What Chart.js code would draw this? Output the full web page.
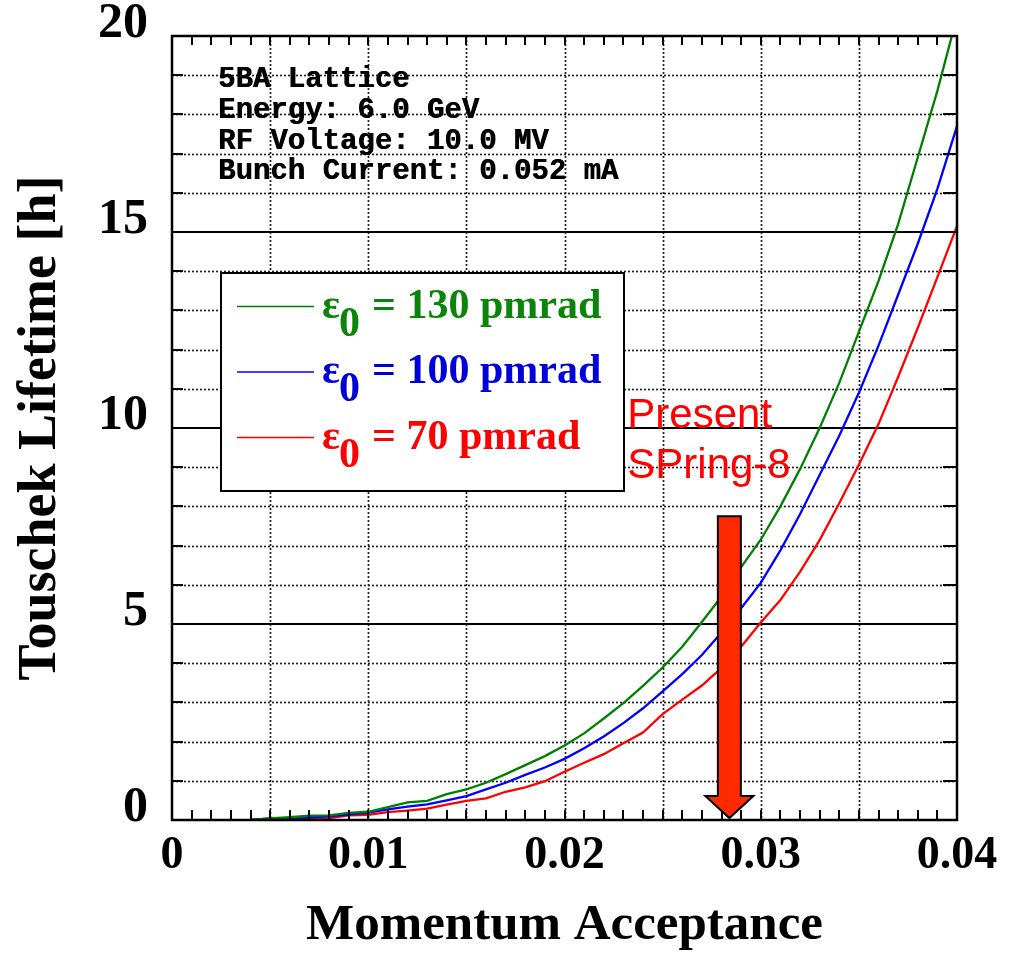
<!DOCTYPE html>
<html>
<head>
<meta charset="utf-8">
<script src="https://cdn.jsdelivr.net/npm/chart.js@4/dist/chart.umd.min.js"></script>
<style>
  html, body { margin: 0; padding: 0; background: #fff; }
  canvas { display: block; }
</style>
</head>
<body>
<canvas id="chart" width="1010" height="957"></canvas>
<script>
// Momentum acceptance sampled every 0.001
const acceptance = [
  0.004, 0.005, 0.006, 0.007, 0.008, 0.009, 0.010, 0.011, 0.012, 0.013,
  0.014, 0.015, 0.016, 0.017, 0.018, 0.019, 0.020, 0.021, 0.022, 0.023,
  0.024, 0.025, 0.026, 0.027, 0.028, 0.029, 0.030, 0.031, 0.032, 0.033,
  0.034, 0.035, 0.036, 0.037, 0.038, 0.039, 0.040
];

// Touschek lifetime [h] for each emittance
const lifetime130 = [
  0, 0.04, 0.07, 0.11, 0.12, 0.18, 0.21, 0.33, 0.45, 0.49,
  0.66, 0.78, 0.95, 1.17, 1.40, 1.63, 1.90, 2.21, 2.59, 2.98,
  3.42, 3.89, 4.42, 5.05, 5.70, 6.45, 7.15, 8.00, 8.95, 10.0,
  11.15, 12.45, 13.75, 15.2, 16.9, 18.6, 20.5
];
const lifetime100 = [
  0, 0.04, 0.05, 0.07, 0.09, 0.14, 0.19, 0.27, 0.34, 0.40,
  0.50, 0.61, 0.78, 0.95, 1.15, 1.34, 1.56, 1.83, 2.13, 2.47,
  2.85, 3.28, 3.72, 4.21, 4.78, 5.40, 6.05, 6.88, 7.80, 8.80,
  9.80, 10.9, 12.1, 13.4, 14.7, 16.1, 17.7
];
const lifetime70 = [
  0, 0.02, 0.03, 0.03, 0.05, 0.12, 0.13, 0.20, 0.24, 0.29,
  0.39, 0.49, 0.55, 0.72, 0.83, 0.99, 1.23, 1.46, 1.68, 1.96,
  2.23, 2.70, 3.07, 3.43, 3.88, 4.42, 5.04, 5.61, 6.33, 7.14,
  8.08, 9.06, 10.1, 11.3, 12.55, 13.85, 15.15
];

const seriesLabels = ['130', '100', '70'];
const seriesColors = ['#008000', '#0000ff', '#ff0000'];
const legendTextColors = ['#0a850a', '#0000dd', '#ff0000'];

const xTickLabels = ['0', '0.01', '0.02', '0.03', '0.04'];
const yTickLabels = ['0', '5', '10', '15', '20'];

const infoLines = ['5BA Lattice', 'Energy: 6.0 GeV', 'RF Voltage: 10.0 MV', 'Bunch Current: 0.052 mA'];
const noteLines = ['Present', 'SPring-8'];

// Present SPring-8 acceptance marker (arrow) and its note anchor
const markerAcceptance = 0.0284;
const markerTop = 7.75;
const markerTip = 0.05;
const noteAnchor = { x: 0.0232, y: 10.0 };

const SERIF = "'Liberation Serif', 'Times New Roman', serif";

function toPoints(ys) {
  return acceptance.map((x, i) => ({ x: x, y: ys[i] }));
}

// Grid, ticks, frame and the annotations drawn on top of the plot
const plotDecor = {
  id: 'plotDecor',
  beforeDatasetsDraw(chart) {
    const { ctx, chartArea: a, scales: { x, y } } = chart;
    ctx.save();
    ctx.strokeStyle = '#222';
    ctx.lineWidth = 1.7;
    ctx.setLineDash([2, 2]);
    // dotted verticals every 0.005
    for (let i = 1; i < 8; i++) {
      const px = Math.round(x.getPixelForValue(i * 0.005)) + 0.5;
      ctx.beginPath(); ctx.moveTo(px, a.top); ctx.lineTo(px, a.bottom); ctx.stroke();
    }
    // dotted horizontals every 1 h
    for (let v = 1; v < 20; v++) {
      if (v % 5 === 0) continue;
      const py = Math.round(y.getPixelForValue(v)) + 0.5;
      ctx.beginPath(); ctx.moveTo(a.left, py); ctx.lineTo(a.right, py); ctx.stroke();
    }
    ctx.setLineDash([]);
    ctx.strokeStyle = '#000';
    ctx.lineWidth = 2;
    for (let v = 5; v < 20; v += 5) {
      const py = Math.round(y.getPixelForValue(v));
      ctx.beginPath(); ctx.moveTo(a.left, py); ctx.lineTo(a.right, py); ctx.stroke();
    }
    ctx.restore();
  },
  afterDatasetsDraw(chart) {
    const { ctx, chartArea: a, scales: { x, y } } = chart;
    ctx.save();

    // tick marks
    ctx.strokeStyle = '#000';
    ctx.lineWidth = 2;
    for (let i = 1; i < 40; i++) {
      const px = Math.round(x.getPixelForValue(i * 0.001));
      ctx.beginPath(); ctx.moveTo(px, a.bottom); ctx.lineTo(px, a.bottom - 10); ctx.stroke();
      ctx.beginPath(); ctx.moveTo(px, a.top); ctx.lineTo(px, a.top + 9); ctx.stroke();
    }
    for (let v = 1; v < 20; v++) {
      const py = Math.round(y.getPixelForValue(v));
      ctx.beginPath(); ctx.moveTo(a.left, py); ctx.lineTo(a.left + 11, py); ctx.stroke();
      ctx.beginPath(); ctx.moveTo(a.right, py); ctx.lineTo(a.right - 14, py); ctx.stroke();
    }

    // frame
    ctx.lineWidth = 2.5;
    ctx.strokeRect(a.left, a.top, a.right - a.left, a.bottom - a.top);

    // run parameters
    ctx.fillStyle = '#000';
    ctx.font = "bold 29px 'Liberation Mono', 'Courier New', monospace";
    ctx.textAlign = 'left';
    ctx.textBaseline = 'alphabetic';
    infoLines.forEach((t, i) => {
      ctx.fillText(t, a.left + 46, a.top + 51 + i * 30.8);
      ctx.fillText(t, a.left + 46.6, a.top + 51 + i * 30.8);
    });

    // legend box
    const bx = a.left + 49, by = a.top + 237, bw = 403, bh = 218;
    ctx.fillStyle = '#fff';
    ctx.fillRect(bx, by, bw, bh);
    ctx.strokeStyle = '#000';
    ctx.lineWidth = 2;
    ctx.strokeRect(bx, by, bw, bh);
    seriesLabels.forEach((lab, i) => {
      const base = by + 44.5 + i * 65.5;
      ctx.strokeStyle = seriesColors[i];
      ctx.lineWidth = 1.5;
      ctx.beginPath(); ctx.moveTo(bx + 16, base - 11); ctx.lineTo(bx + 93, base - 11); ctx.stroke();
      ctx.fillStyle = legendTextColors[i];
      ctx.font = 'bold 42px ' + SERIF;
      ctx.fillText('\u03B5', bx + 101, base);
      ctx.fillText('0', bx + 118, base + 18);
      ctx.fillText('= ' + lab + ' pmrad', bx + 151, base);
    });

    // note
    ctx.fillStyle = '#ff0000';
    ctx.font = "42px 'Liberation Sans', Arial, sans-serif";
    const nx = x.getPixelForValue(noteAnchor.x);
    const ny = y.getPixelForValue(noteAnchor.y);
    noteLines.forEach((t, i) => ctx.fillText(t, nx, ny + i * 50));

    // arrow
    const ax = x.getPixelForValue(markerAcceptance);
    const top = y.getPixelForValue(markerTop);
    const tip = y.getPixelForValue(markerTip);
    const sw = 11.5, hw = 24, hh = 22;
    ctx.beginPath();
    ctx.moveTo(ax - sw, top);
    ctx.lineTo(ax + sw, top);
    ctx.lineTo(ax + sw, tip - hh);
    ctx.lineTo(ax + hw, tip - hh);
    ctx.lineTo(ax, tip);
    ctx.lineTo(ax - hw, tip - hh);
    ctx.lineTo(ax - sw, tip - hh);
    ctx.closePath();
    ctx.fillStyle = '#ff2a00';
    ctx.fill();
    ctx.strokeStyle = '#000';
    ctx.lineWidth = 2;
    ctx.lineJoin = 'miter';
    ctx.stroke();

    ctx.restore();
  }
};

new Chart(document.getElementById('chart'), {
  type: 'line',
  data: {
    datasets: [
      { label: seriesLabels[0], data: toPoints(lifetime130), borderColor: seriesColors[0] },
      { label: seriesLabels[1], data: toPoints(lifetime100), borderColor: seriesColors[1] },
      { label: seriesLabels[2], data: toPoints(lifetime70), borderColor: seriesColors[2] }
    ]
  },
  options: {
    responsive: false,
    animation: false,
    layout: { padding: { left: 0, top: 36, right: 53, bottom: 0 } },
    elements: {
      line: { borderWidth: 2.3, tension: 0, fill: false },
      point: { radius: 0 }
    },
    plugins: { legend: { display: false }, tooltip: { enabled: false } },
    scales: {
      x: {
        type: 'linear',
        min: 0, max: 0.04,
        grid: { display: false, drawTicks: false },
        border: { display: false },
        afterFit(s) { s.height = 137; s.paddingLeft = 0; s.paddingRight = 0; },
        afterBuildTicks(s) { s.ticks = xTickLabels.map(t => ({ value: parseFloat(t) })); },
        ticks: {
          autoSkip: false, maxRotation: 0, padding: 9,
          color: '#000',
          font: { family: SERIF, size: 46, weight: 'bold' },
          callback: (v, i) => xTickLabels[i]
        },
        title: {
          display: true, text: 'Momentum Acceptance', color: '#000',
          font: { family: SERIF, size: 51, weight: 'bold' },
          padding: { top: 0, bottom: 1 }
        }
      },
      y: {
        type: 'linear',
        min: 0, max: 20,
        grid: { display: false, drawTicks: false },
        border: { display: false },
        afterFit(s) { s.width = 172; s.paddingTop = 0; s.paddingBottom = 0; },
        afterBuildTicks(s) { s.ticks = yTickLabels.map(t => ({ value: parseFloat(t) })); },
        ticks: {
          padding: 24, labelOffset: -12,
          color: '#000',
          font: { family: SERIF, size: 50, weight: 'bold' },
          callback: (v, i) => yTickLabels[i]
        },
        title: {
          display: true, text: 'Touschek Lifetime [h]', color: '#000',
          font: { family: SERIF, size: 54, weight: 'bold' },
          padding: { top: 9, bottom: 0 }
        }
      }
    }
  },
  plugins: [plotDecor]
});
</script>
</body>
</html>
